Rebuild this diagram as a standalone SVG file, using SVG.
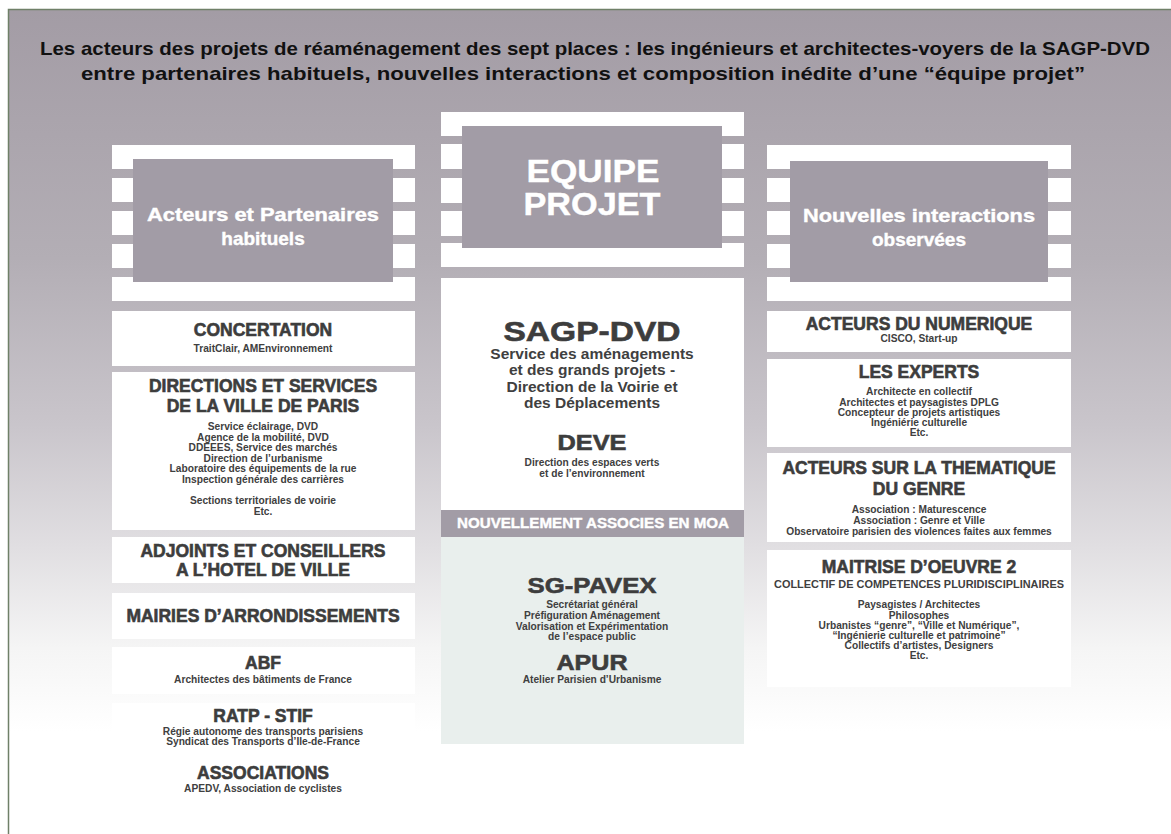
<svg xmlns="http://www.w3.org/2000/svg" width="1171" height="834" viewBox="0 0 1171 834">
<defs>
<linearGradient id="bg" x1="0" y1="0" x2="0" y2="1">
<stop offset="0" stop-color="#a39ca5"/>
<stop offset="0.3" stop-color="#b3aeb5"/>
<stop offset="0.5" stop-color="#c9c5cb"/>
<stop offset="0.65" stop-color="#e1dfe2"/>
<stop offset="0.77" stop-color="#f5f5f5"/>
<stop offset="0.87" stop-color="#ffffff"/>
</linearGradient>
<style>
.band{fill:#ffffff}
.gbox{fill:#a29ca6}
.wbox{fill:#ffffff}
.tbox{fill:#e9efed}
.gt{font-family:"Liberation Sans",Arial,sans-serif;font-weight:bold;fill:#ffffff;stroke:#ffffff;stroke-width:0.4;text-anchor:middle}
.h{font-family:"Liberation Sans",Arial,sans-serif;font-weight:bold;fill:#3d3d3d;stroke:#3d3d3d;stroke-width:0.6;text-anchor:middle;font-size:17.5px}
.s{font-family:"Liberation Sans",Arial,sans-serif;font-weight:bold;fill:#404040;text-anchor:middle;font-size:10.2px}
.m{font-family:"Liberation Sans",Arial,sans-serif;font-weight:bold;fill:#404040;text-anchor:middle;font-size:15.5px}
.title{font-family:"Liberation Sans",Arial,sans-serif;font-weight:bold;fill:#111111;text-anchor:middle;font-size:19px}
</style>
</defs>
<rect x="8.5" y="9.5" width="1170" height="830" fill="url(#bg)" stroke="#6f8068" stroke-width="1.5"/>

<g id="title">
<text class="title" x="595" y="55" textLength="1110" lengthAdjust="spacingAndGlyphs">Les acteurs des projets de réaménagement des sept places : les ingénieurs et architectes-voyers de la SAGP-DVD</text>
<text class="title" x="583" y="80" textLength="1004" lengthAdjust="spacingAndGlyphs">entre partenaires habituels, nouvelles interactions et composition inédite d’une “équipe projet”</text>
</g>

<g id="header-left">
<rect class="band" x="112" y="145" width="303" height="24"/>
<rect class="band" x="112" y="178" width="303" height="24"/>
<rect class="band" x="112" y="211" width="303" height="24"/>
<rect class="band" x="112" y="244" width="303" height="24"/>
<rect class="band" x="112" y="277" width="303" height="24"/>
<rect class="gbox" x="133" y="159" width="260" height="123"/>
<text class="gt" x="263" y="221" font-size="19" textLength="232" lengthAdjust="spacingAndGlyphs">Acteurs et Partenaires</text>
<text class="gt" x="263" y="245" font-size="19">habituels</text>
</g>

<g id="header-middle">
<rect class="band" x="441" y="112" width="303" height="24"/>
<rect class="band" x="441" y="144" width="303" height="25"/>
<rect class="band" x="441" y="178" width="303" height="25"/>
<rect class="band" x="441" y="211" width="303" height="25"/>
<rect class="band" x="441" y="243" width="303" height="24"/>
<rect class="gbox" x="462" y="126" width="260" height="122"/>
<text class="gt" x="593" y="182" font-size="31" textLength="133" lengthAdjust="spacingAndGlyphs">EQUIPE</text>
<text class="gt" x="592" y="215" font-size="31" textLength="137" lengthAdjust="spacingAndGlyphs">PROJET</text>
</g>

<g id="header-right">
<rect class="band" x="767" y="145" width="304" height="24"/>
<rect class="band" x="767" y="178" width="304" height="24"/>
<rect class="band" x="767" y="211" width="304" height="24"/>
<rect class="band" x="767" y="244" width="304" height="24"/>
<rect class="band" x="767" y="277" width="304" height="24"/>
<rect class="gbox" x="790" y="161" width="258" height="121"/>
<text class="gt" x="919" y="222" font-size="19" textLength="232" lengthAdjust="spacingAndGlyphs">Nouvelles interactions</text>
<text class="gt" x="919" y="246" font-size="19">observées</text>
</g>

<g id="concertation">
<rect class="wbox" x="112" y="311" width="303" height="55"/>
<text class="h" x="263" y="336">CONCERTATION</text>
<text class="s" x="263" y="352">TraitClair, AMEnvironnement</text>
</g>

<g id="directions">
<rect class="wbox" x="112" y="372" width="303" height="158"/>
<text class="h" x="263" y="392">DIRECTIONS ET SERVICES</text>
<text class="h" x="263" y="412">DE LA VILLE DE PARIS</text>
<text class="s" x="263" y="430">Service éclairage, DVD</text>
<text class="s" x="263" y="441">Agence de la mobilité, DVD</text>
<text class="s" x="263" y="451">DDEEES, Service des marchés</text>
<text class="s" x="263" y="462">Direction de l’urbanisme</text>
<text class="s" x="263" y="472">Laboratoire des équipements de la rue</text>
<text class="s" x="263" y="483">Inspection générale des carrières</text>
<text class="s" x="263" y="504">Sections territoriales de voirie</text>
<text class="s" x="263" y="515">Etc.</text>
</g>

<g id="adjoints">
<rect class="wbox" x="112" y="537" width="303" height="46"/>
<text class="h" x="263" y="557">ADJOINTS ET CONSEILLERS</text>
<text class="h" x="263" y="576">A L’HOTEL DE VILLE</text>
</g>

<g id="mairies">
<rect class="wbox" x="112" y="593" width="303" height="46"/>
<text class="h" x="263" y="622">MAIRIES D’ARRONDISSEMENTS</text>
</g>

<g id="abf">
<rect class="wbox" x="112" y="647" width="303" height="47"/>
<text class="h" x="263" y="669">ABF</text>
<text class="s" x="263" y="683">Architectes des bâtiments de France</text>
</g>

<g id="ratp">
<rect class="wbox" x="112" y="703" width="303" height="47"/>
<text class="h" x="263" y="722">RATP - STIF</text>
<text class="s" x="263" y="735">Régie autonome des transports parisiens</text>
<text class="s" x="263" y="745">Syndicat des Transports d’Ile-de-France</text>
</g>

<g id="associations">
<text class="h" x="263" y="779">ASSOCIATIONS</text>
<text class="s" x="263" y="792">APEDV, Association de cyclistes</text>
</g>

<g id="sagp-dvd">
<rect class="wbox" x="441" y="278" width="303" height="232"/>
<text class="h" x="592" y="341" style="font-size:28px" textLength="177" lengthAdjust="spacingAndGlyphs">SAGP-DVD</text>
<text class="m" x="592" y="359">Service des aménagements</text>
<text class="m" x="592" y="375">et des grands projets -</text>
<text class="m" x="592" y="392">Direction de la Voirie et</text>
<text class="m" x="592" y="408">des Déplacements</text>
<text class="h" x="592" y="450" style="font-size:22px" textLength="69" lengthAdjust="spacingAndGlyphs">DEVE</text>
<text class="s" x="592" y="466">Direction des espaces verts</text>
<text class="s" x="592" y="477">et de l’environnement</text>
</g>

<g id="moa-band">
<rect class="gbox" x="441" y="510" width="303" height="27"/>
<text class="gt" x="593" y="528" font-size="14.5" textLength="272" lengthAdjust="spacingAndGlyphs">NOUVELLEMENT ASSOCIES EN MOA</text>
</g>

<g id="moa">
<rect class="tbox" x="441" y="537" width="303" height="207"/>
<text class="h" x="592" y="593" style="font-size:22px" textLength="129" lengthAdjust="spacingAndGlyphs">SG-PAVEX</text>
<text class="s" x="592" y="608">Secrétariat général</text>
<text class="s" x="592" y="619">Préfiguration Aménagement</text>
<text class="s" x="592" y="630">Valorisation et Expérimentation</text>
<text class="s" x="592" y="640">de l’espace public</text>
<text class="h" x="592" y="670" style="font-size:22px" textLength="71" lengthAdjust="spacingAndGlyphs">APUR</text>
<text class="s" x="592" y="683">Atelier Parisien d’Urbanisme</text>
</g>

<g id="numerique">
<rect class="wbox" x="767" y="311" width="304" height="41"/>
<text class="h" x="919" y="330">ACTEURS DU NUMERIQUE</text>
<text class="s" x="919" y="342">CISCO, Start-up</text>
</g>

<g id="experts">
<rect class="wbox" x="767" y="359" width="304" height="88"/>
<text class="h" x="919" y="378">LES EXPERTS</text>
<text class="s" x="919" y="395">Architecte en collectif</text>
<text class="s" x="919" y="406">Architectes et paysagistes DPLG</text>
<text class="s" x="919" y="416">Concepteur de projets artistiques</text>
<text class="s" x="919" y="426">Ingéniérie culturelle</text>
<text class="s" x="919" y="436">Etc.</text>
</g>

<g id="genre">
<rect class="wbox" x="767" y="453" width="304" height="89"/>
<text class="h" x="919" y="474">ACTEURS SUR LA THEMATIQUE</text>
<text class="h" x="919" y="495">DU GENRE</text>
<text class="s" x="919" y="513">Association : Maturescence</text>
<text class="s" x="919" y="524">Association : Genre et Ville</text>
<text class="s" x="919" y="535">Observatoire parisien des violences faites aux femmes</text>
</g>

<g id="maitrise">
<rect class="wbox" x="767" y="550" width="304" height="137"/>
<text class="h" x="919" y="573">MAITRISE D’OEUVRE 2</text>
<text class="s" x="919" y="588" textLength="290" lengthAdjust="spacingAndGlyphs">COLLECTIF DE COMPETENCES PLURIDISCIPLINAIRES</text>
<text class="s" x="919" y="608">Paysagistes / Architectes</text>
<text class="s" x="919" y="619">Philosophes</text>
<text class="s" x="919" y="629">Urbanistes “genre”, “Ville et Numérique”,</text>
<text class="s" x="919" y="639">“Ingénierie culturelle et patrimoine”</text>
<text class="s" x="919" y="649">Collectifs d’artistes, Designers</text>
<text class="s" x="919" y="659">Etc.</text>
</g>

<g id="connectors"></g>
</svg>
